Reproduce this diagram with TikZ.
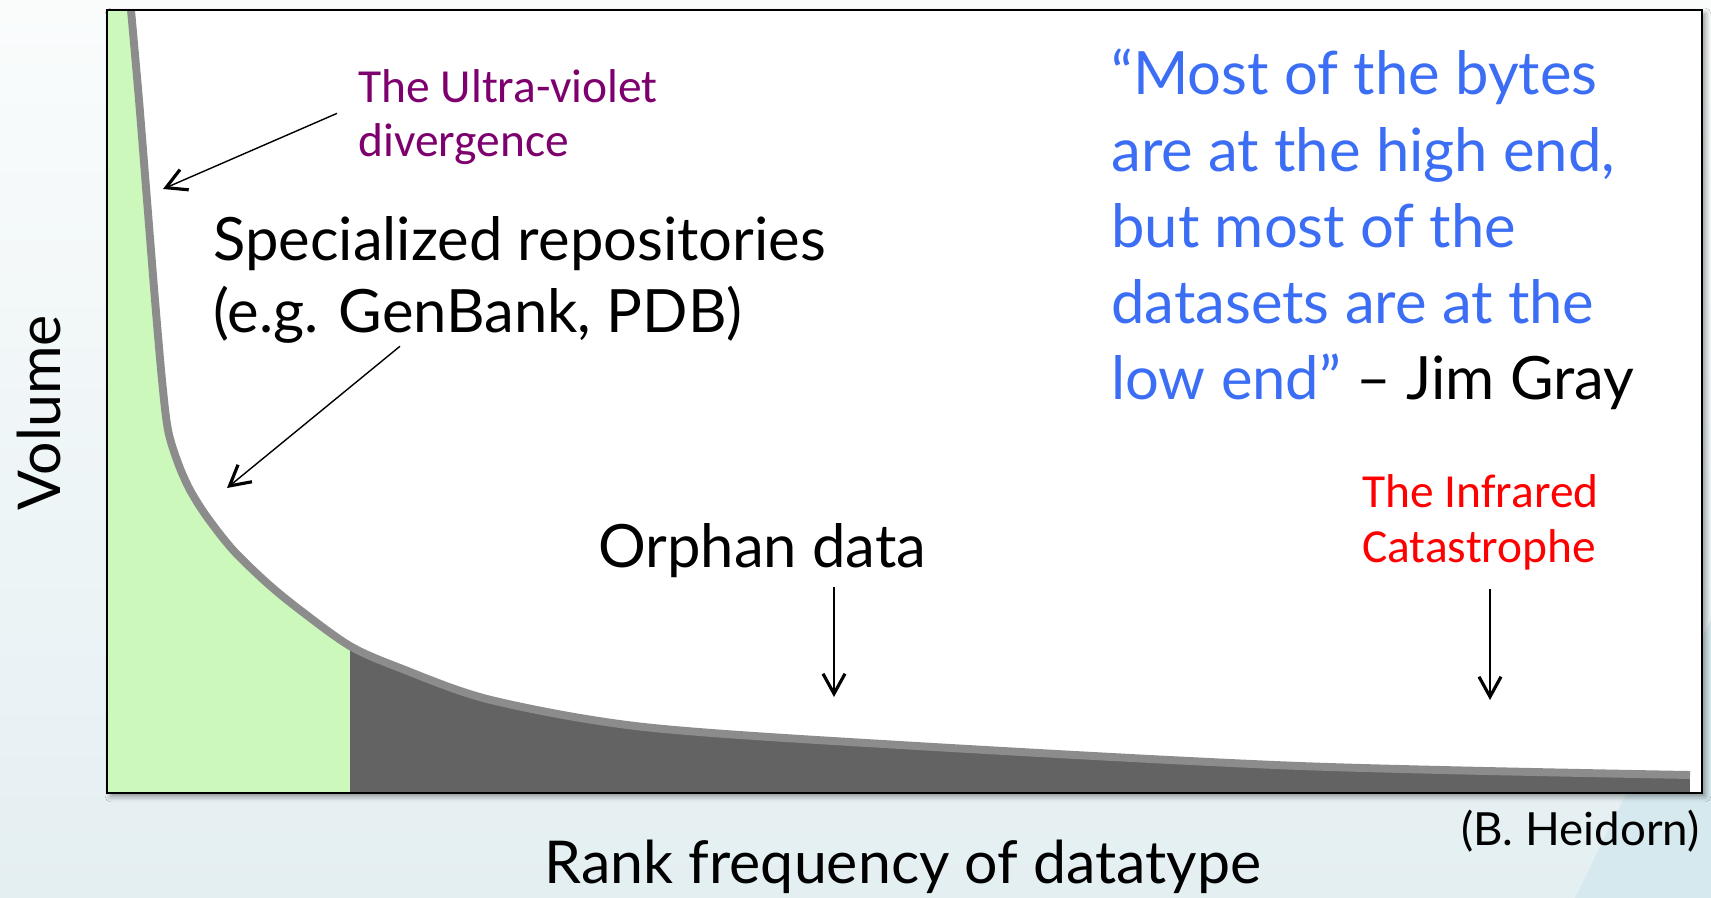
\documentclass[tikz,border=0pt]{standalone}
\usepackage{fontspec}
\setmainfont{Lato}
\newfontfamily\calibrifont{Carlito}
\usetikzlibrary{arrows.meta,shadows.blur}
\definecolor{uvgreen}{RGB}{204,248,187}
\definecolor{taildark}{RGB}{99,99,99}
\definecolor{tailedge}{RGB}{140,140,140}
\definecolor{quoteblue}{RGB}{60,110,245}
\definecolor{uvpurple}{RGB}{125,0,110}
\definecolor{bgtop}{RGB}{250,252,252}
\definecolor{bgbottom}{RGB}{228,239,242}
\definecolor{bgteal}{RGB}{214,233,238}
\tikzset{
    axislabel/.style={font=\fontsize{33.6}{41}\selectfont, inner sep=0pt},
    bigtext/.style={font=\fontsize{34}{41.4}\selectfont, align=left, inner sep=0pt},
    quotetext/.style={font=\fontsize{34}{43.4}\selectfont, align=left, inner sep=0pt, text=quoteblue},
    smalltext/.style={font=\calibrifont\fontsize{27}{31}\selectfont, align=left, inner sep=0pt},
    pointer/.style={-{Straight Barb[length=0.4cm, width=0.44cm, line width=1.8pt]}, line width=0.8pt},
}

\begin{document}
\begin{tikzpicture}[x=0.02cm, y=-0.02cm]
    \useasboundingbox (0,0) rectangle (1711,898);
    \shade[top color=bgtop, bottom color=bgbottom] (0,0) rectangle (1711,898);
    \fill[bgteal] (1575,898) -- (1711,620) -- (1711,898) -- cycle;
    % plot area
    \fill[white, blur shadow={shadow xshift=2pt, shadow yshift=-2pt, shadow blur radius=3pt}] (107,10) rectangle (1702,793);
    \begin{scope}
        \clip (107,10) -- plot[smooth, tension=0.5] coordinates {(131,10) (139,100) (147,200) (155,300) (162,380) (168,430) (178,463) (190,490) (207,517) (233,550) (267,583) (300,610) (350,646) (400,668) (491,700) (644,727) (900,745) (1300,766) (1690,775)} |- (107,793) -- cycle;
        \fill[uvgreen] (107,10) rectangle (350,793);
        \fill[taildark] (350,10) rectangle (1690,793);
    \end{scope}
    \draw[tailedge, line width=4.5pt] plot[smooth, tension=0.5] coordinates {(131,10) (139,100) (147,200) (155,300) (162,380) (168,430) (178,463) (190,490) (207,517) (233,550) (267,583) (300,610) (350,646) (400,668) (491,700) (644,727) (900,745) (1300,766) (1690,775)};
    \draw[line width=1.1pt] (107,10) rectangle (1702,793);

    % labels
    \node[axislabel, rotate=90, anchor=base] (volume) at (60,413) {Volume};
    \node[axislabel, anchor=base] (rank) at (903,883) {Rank frequency of datatype};
    \node[font=\fontsize{26}{31}\selectfont, inner sep=0pt, anchor=base east] (credit) at (1700,845) {(B. Heidorn)};
    \node[smalltext, text=uvpurple, anchor=base west] (ultra) at (358,157) {The Ultra-violet\\divergence};
    \node[bigtext, anchor=base west] (spec) at (213,333) {Specialized repositories\\(e.g. GenBank, PDB)};
    \node[bigtext, anchor=base west] (orphan) at (598,567) {Orphan data};
    \node[smalltext, text=red, anchor=base west] (infra) at (1362,562) {The Infrared\\Catastrophe};
    \node[quotetext, anchor=base west] (quote) at (1111,400) {“Most of the bytes\\are at the high end,\\but most of the\\datasets are at the\\low end” \textcolor{black}{– Jim Gray}};

    % arrows
    \coordinate (uvtip) at (163,189);
    \coordinate (spectip) at (227,488);
    \coordinate (orphantip) at (834,697);
    \coordinate (irtip) at (1490,700);
    \draw[pointer] ([shift={(-21,-4)}]ultra.west) -- (uvtip);
    \draw[pointer] ([shift={(187,2)}]spec.south west) -- (spectip);
    \draw[pointer, shorten <=0.18cm] (orphan.south -| orphantip) -- (orphantip);
    \draw[pointer, shorten <=0.38cm] (infra.south -| irtip) -- (irtip);
\end{tikzpicture}
\end{document}
